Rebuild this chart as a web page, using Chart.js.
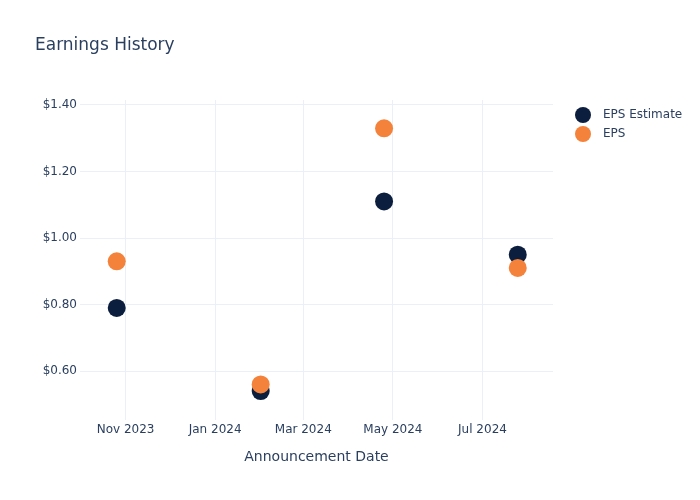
<!DOCTYPE html>
<html>
<head>
<meta charset="utf-8">
<script src="https://cdn.jsdelivr.net/npm/chart.js@4"></script>
<style>
  html, body { margin: 0; padding: 0; background: #fff; }
  #wrap { position: relative; width: 700px; height: 500px; font-family: "DejaVu Sans", sans-serif; color: #2a3f5f; }
  #title { position: absolute; left: 35px; top: 34px; font-size: 17px; }
  #legend { position: absolute; left: 575px; top: 105px; font-size: 12px; }
  #legend div { height: 19px; line-height: 19px; display: flex; align-items: center; }
  #legend span.dot { width: 16px; height: 16px; border-radius: 50%; display: inline-block; margin-right: 12px; }
</style>
</head>
<body>
<div id="wrap">
  <canvas id="chart" width="700" height="500"></canvas>
  <div id="title">Earnings History</div>
  <div id="legend"></div>
</div>
<script>
const dates = ["2023-10-26", "2024-02-01", "2024-04-25", "2024-07-25"];
const epsEstimate = [0.79, 0.54, 1.11, 0.95];
const eps = [0.93, 0.56, 1.33, 0.91];

const xTickDates = ["2023-11-01", "2024-01-01", "2024-03-01", "2024-05-01", "2024-07-01"];
const xTickLabels = ["Nov 2023", "Jan 2024", "Mar 2024", "May 2024", "Jul 2024"];
const yTicks = [0.6, 0.8, 1.0, 1.2, 1.4];

const NAVY = "#0c1e3e";
const ORANGE = "#f5823a";
const GRID = "#ebf0f8";
const TEXT = "#2a3f5f";

const ts = s => Date.parse(s + "T00:00:00Z");

function points(vals) {
  return vals.map((v, i) => ({ x: ts(dates[i]), y: v }));
}

const series = [
  { label: "EPS Estimate", data: points(epsEstimate), color: NAVY, order: 1 },
  { label: "EPS", data: points(eps), color: ORANGE, order: 0 }
];

// legenda a mà, a la dreta
const legend = document.getElementById("legend");
for (const s of series) {
  const row = document.createElement("div");
  row.innerHTML = `<span class="dot" style="background:${s.color}"></span>${s.label}`;
  legend.appendChild(row);
}

new Chart(document.getElementById("chart"), {
  type: "scatter",
  data: {
    datasets: series.map(s => ({
      label: s.label,
      data: s.data,
      order: s.order,
      pointRadius: 9,
      pointHoverRadius: 9,
      pointBackgroundColor: s.color,
      pointBorderWidth: 0,
      showLine: false
    }))
  },
  options: {
    responsive: false,
    animation: false,
    layout: { padding: { top: 100, right: 147, left: 0, bottom: 30 } },
    plugins: { legend: { display: false }, tooltip: { enabled: false } },
    scales: {
      x: {
        type: "linear",
        min: ts("2023-10-01"),
        max: ts("2024-08-18"),
        border: { display: false },
        grid: { color: GRID, drawTicks: false },
        afterBuildTicks: axis => { axis.ticks = xTickDates.map(d => ({ value: ts(d) })); },
        afterFit: axis => { axis.height = 50; },
        ticks: {
          color: TEXT,
          font: { family: "DejaVu Sans", size: 12 },
          padding: 3,
          maxRotation: 0,
          callback: v => xTickLabels[xTickDates.findIndex(d => ts(d) === v)]
        },
        title: {
          display: true,
          text: "Announcement Date",
          color: TEXT,
          font: { family: "DejaVu Sans", size: 14 },
          padding: { top: 10 }
        }
      },
      y: {
        min: 0.453,
        max: 1.415,
        border: { display: false },
        grid: { color: GRID, drawTicks: false },
        afterBuildTicks: axis => { axis.ticks = yTicks.map(v => ({ value: v })); },
        afterFit: axis => { axis.width = 80; },
        ticks: {
          color: TEXT,
          font: { family: "DejaVu Sans", size: 12 },
          padding: 3,
          callback: v => "$" + v.toFixed(2)
        }
      }
    }
  }
});
</script>
</body>
</html>
